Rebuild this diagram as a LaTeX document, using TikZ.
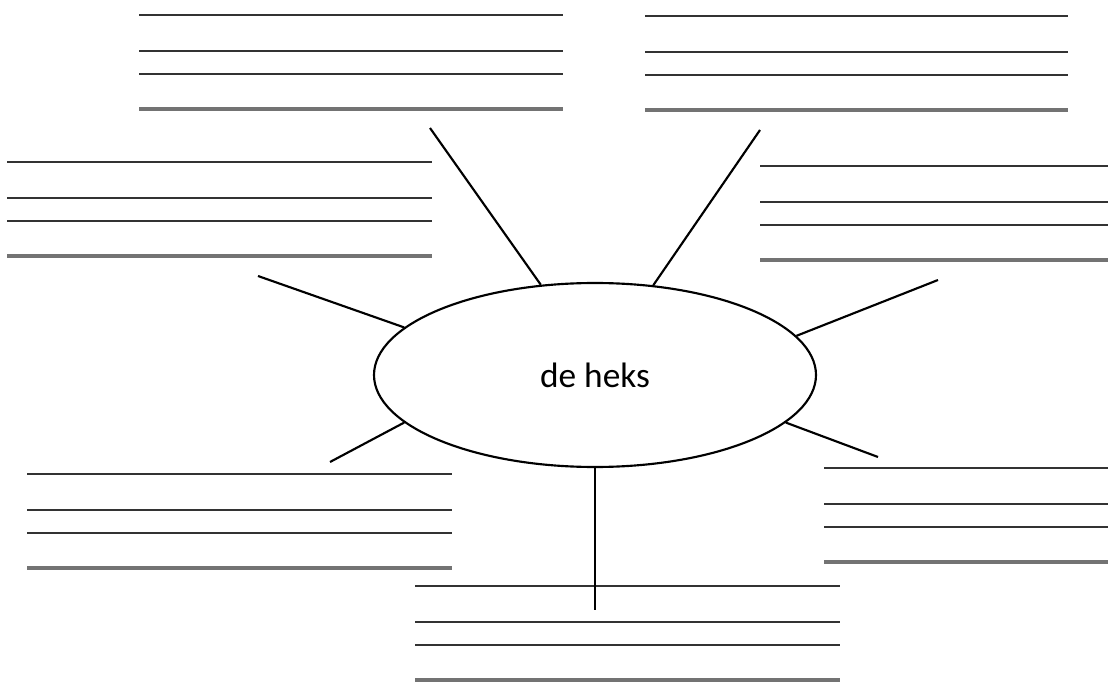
\documentclass[tikz,border=0pt]{standalone}
\usepackage{fontspec}
\setmainfont{Carlito}
\usetikzlibrary{shapes.geometric}

\tikzset{
  lijn/.style={line width=1.8pt, black!80},
  onderlijn/.style={line width=2.3pt, black!55},
  spaak/.style={line width=1.6pt, black},
}

\begin{document}
\begin{tikzpicture}[x=0.75pt, y=-0.75pt]
  \useasboundingbox (0,0) rectangle (1110,684);

  \node[draw, line width=1.6pt, ellipse, minimum width=331.5pt, minimum height=138pt,
        inner sep=0pt, font=\fontsize{26.5}{30}\selectfont] (heks) at (595,375) {de heks};

  % schrijflijnen
  \foreach \xa/\xb/\ya in {139/563/15, 645/1068/16, 7/432/162, 760/1108/166,
                           27/452/474, 824/1108/468, 415/840/586} {
    \foreach \dy in {0,36,59}
      \draw[lijn] (\xa,\ya+\dy) -- (\xb,\ya+\dy);
    \draw[onderlijn] (\xa,\ya+94) -- (\xb,\ya+94);
  }

  \coordinate (lb) at (430,128);
  \coordinate (rb) at (760,130);
  \coordinate (l) at (258,276);
  \coordinate (r) at (938,280);
  \coordinate (lo) at (330,462);
  \coordinate (ro) at (878,457);
  \coordinate (o) at (595,610);

  \draw[spaak] (lb) -- (heks.121);
  \draw[spaak] (rb) -- (heks.57.5);
  \draw[spaak] (l) -- (heks.166);
  \draw[spaak] (r) -- (heks.11);
  \draw[spaak] (lo) -- (heks.194);
  \draw[spaak] (ro) -- (heks.346);
  \draw[spaak] (heks.270) -- (o);
\end{tikzpicture}
\end{document}
